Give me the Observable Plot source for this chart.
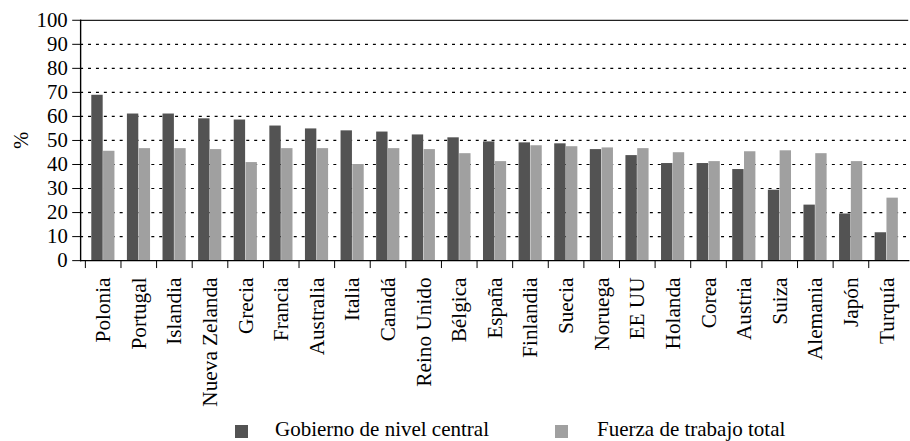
<!DOCTYPE html>
<html>
<head>
<meta charset="utf-8">
<script src="https://cdn.jsdelivr.net/npm/d3@7"></script>
<script src="https://cdn.jsdelivr.net/npm/@observablehq/plot@0.6"></script>
<style>
  html, body { margin: 0; padding: 0; background: #fff; overflow: hidden; width: 910px; height: 441px; }
  #chart { position: absolute; left: 0; top: 0; }
  #legend { position: absolute; left: 0; top: 0; width: 910px; height: 441px; pointer-events: none;
            font-family: "Liberation Serif", "DejaVu Serif", serif; font-size: 21px; color: #000; }
  #legend .sw { position: absolute; top: 425px; width: 13px; height: 13px; }
  #legend .lt { position: absolute; top: 419px; line-height: 21px; white-space: nowrap; }
  #chart svg, #chart svg text { font-family: "Liberation Serif", "DejaVu Serif", serif !important; }
</style>
</head>
<body>
<div id="chart"></div>
<div id="legend"></div>
<script>
const countries = ["Polonia", "Portugal", "Islandia", "Nueva Zelanda", "Grecia", "Francia", "Australia", "Italia",
  "Canadá", "Reino Unido", "Bélgica", "España", "Finlandia", "Suecia", "Noruega", "EE UU", "Holanda", "Corea",
  "Austria", "Suiza", "Alemania", "Japón", "Turquía"];
const gobierno = [68.8, 61.0, 61.0, 59.0, 58.5, 56.0, 54.8, 54.0, 53.5, 52.3, 51.1, 49.4, 49.0, 48.6, 46.2, 43.7,
  40.4, 40.4, 37.9, 29.3, 23.1, 19.4, 11.6];
const fuerza = [45.5, 46.6, 46.6, 46.2, 40.8, 46.6, 46.6, 40.0, 46.6, 46.2, 44.5, 41.2, 47.8, 47.4, 46.9, 46.6,
  44.9, 41.2, 45.3, 45.7, 44.5, 41.2, 26.0];
const series = ["Gobierno de nivel central", "Fuerza de trabajo total"];
const colors = ["#535353", "#a0a0a0"];
const yTicks = [0, 10, 20, 30, 40, 50, 60, 70, 80, 90, 100];
const gridTicks = [10, 20, 30, 40, 50, 60, 70, 80, 90];

const data = countries.flatMap((c, i) => [
  {country: c, serie: series[0], value: gobierno[i]},
  {country: c, serie: series[1], value: fuerza[i]}
]);

const W = 920, ML = 81, MR = 1.8;
const bw = (W - ML - MR) / countries.length;
const off = bw * 0.173, bar = bw * 0.327;

const chart = Plot.plot({
  width: W,
  height: 415,
  marginLeft: ML,
  marginRight: MR,
  marginTop: 20,
  marginBottom: 152,
  style: {fontFamily: "'Liberation Serif', 'DejaVu Serif', serif", fontSize: "21px", color: "#000", background: "#fff"},
  x: {type: "band", domain: countries, padding: 0, label: null},
  y: {domain: [0, 100], label: null},
  color: {domain: series, range: colors},
  marks: [
    Plot.ruleY(gridTicks, {stroke: "#000", strokeWidth: 1.2, strokeDasharray: "3,5"}),
    Plot.ruleY([100], {stroke: "#222", strokeWidth: 1.3}),
    Plot.barY(data.filter(d => d.serie === series[0]), {x: "country", y: "value", fill: "serie",
      insetLeft: off, insetRight: bw - off - bar}),
    Plot.barY(data.filter(d => d.serie === series[1]), {x: "country", y: "value", fill: "serie",
      insetLeft: off + bar, insetRight: off}),
    Plot.frame({anchor: "left", stroke: "#000", strokeWidth: 1.4}),
    Plot.frame({anchor: "bottom", stroke: "#000", strokeWidth: 1.4}),
    Plot.axisY({ticks: yTicks, tickSize: 8, tickPadding: 5, fontSize: 21, label: "%",
      labelAnchor: "center", labelArrow: "none", labelOffset: 68}),
    Plot.axisX({tickSize: 8, tickFormat: () => "", dx: -bw / 2, label: null}),
    Plot.axisX({tickSize: 0, tickPadding: 17, tickRotate: -90, fontSize: 21.5, label: null})
  ]
});
document.getElementById("chart").appendChild(chart);

const legend = document.getElementById("legend");
const swX = [235, 555], txX = [275, 597];
series.forEach((s, i) => {
  const sw = document.createElement("div");
  sw.className = "sw"; sw.style.left = swX[i] + "px"; sw.style.background = colors[i];
  const t = document.createElement("div");
  t.className = "lt"; t.style.left = txX[i] + "px"; t.textContent = s;
  legend.appendChild(sw); legend.appendChild(t);
});
</script>
</body>
</html>
